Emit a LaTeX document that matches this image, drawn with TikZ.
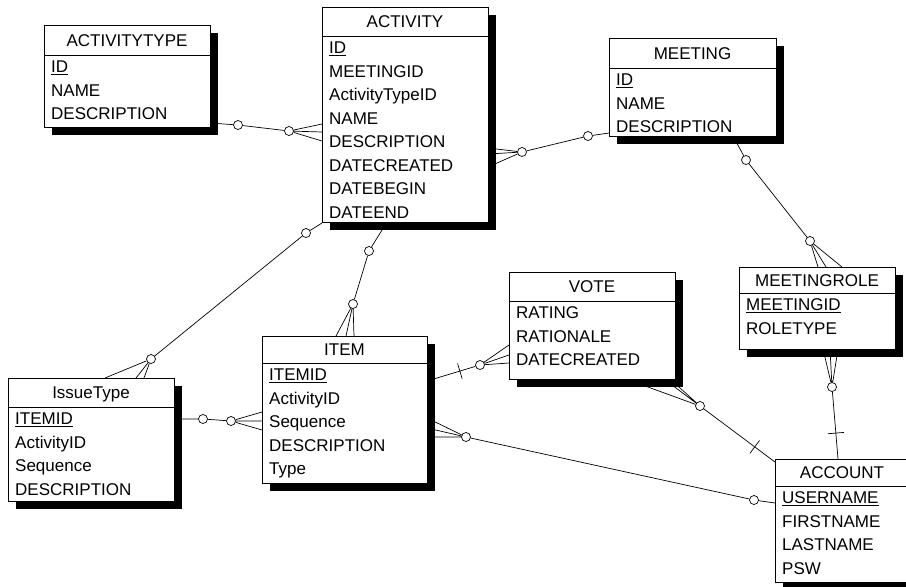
\documentclass[tikz,border=0pt]{standalone}
\usepackage{fontspec}
\newfontfamily\erfam{Liberation Sans}
\newcommand{\erfont}{\erfam\fontsize{17pt}{20pt}\selectfont}
\usetikzlibrary{calc}
\pgfdeclarelayer{conn}
\pgfsetlayers{conn,main}

\tikzset{
  erbox/.style={draw, fill=white, anchor=north west, inner sep=0pt, line width=0.8pt},
  ertitle/.style={anchor=base, inner sep=0pt, font=\erfont},
  errow/.style={anchor=base west, inner sep=0pt, font=\erfont},
  opt/.style={circle, draw, fill=white, inner sep=0pt, minimum size=9pt, line width=0.7pt},
  rel/.style={line width=0.7pt},
}

% entity: name, left, top, right, bottom, header rule y, title, attribute rows
\newcommand{\erentity}[8]{%
  \fill[black] (#2+8,#3+8) rectangle (#4+8,#5+8);
  \node[erbox, minimum width={(#4-#2)*1pt}, minimum height={(#5-#3)*1pt}] (#1) at (#2,#3) {};
  \draw[line width=0.8pt] (#2,#6) -- (#4,#6);
  \node[ertitle] (#1-t) at ({(#2+#4)/2},{(#3+#6)/2+6}) {#7};
  \foreach \r [count=\i from 0] in {#8} {
    \node[errow] (#1-\i) at (#2+7,#6+17.5+23.5*\i) {\r};
  }%
}

% tick bar across a relationship line
\newcommand{\erbar}[2]{%
  \draw[rel] ($(#1)!8pt!90:(#2)$) -- ($(#1)!8pt!-90:(#2)$);
}

\begin{document}
\begin{tikzpicture}[x=1pt,y=-1pt]
\useasboundingbox (0,0) rectangle (906,587);

% entities
\erentity{atype}{44}{25}{210}{127}{55}{ACTIVITYTYPE}{{\underline{ID}},NAME,DESCRIPTION}
\erentity{act}{322}{7}{488}{222}{36}{ACTIVITY}{{\underline{ID}},MEETINGID,ActivityTypeID,NAME,DESCRIPTION,DATECREATED,DATEBEGIN,DATEEND}
\erentity{meet}{609}{38}{776}{136}{68}{MEETING}{{\underline{ID}},NAME,DESCRIPTION}
\erentity{vote}{509}{272}{675}{379}{301}{VOTE}{RATING,RATIONALE,DATECREATED}
\erentity{mrole}{739}{267}{895}{349}{293}{MEETINGROLE}{{\underline{MEETINGID}},ROLETYPE}
\erentity{acct}{775}{459}{909}{582}{486}{ACCOUNT}{{\underline{USERNAME}},FIRSTNAME,LASTNAME,PSW}
\erentity{item}{262}{336}{427}{483}{363}{ITEM}{{\underline{ITEMID}},ActivityID,Sequence,DESCRIPTION,Type}
\erentity{itype}{8}{378}{174}{501}{407}{IssueType}{{\underline{ITEMID}},ActivityID,Sequence,DESCRIPTION}

% optionality circles
\node[opt] (o1a) at (238,125) {};
\node[opt] (o1b) at (289,131) {};
\node[opt] (o2a) at (522,152) {};
\node[opt] (o2b) at (588,136) {};
\node[opt] (o3a) at (746,160) {};
\node[opt] (o3b) at (810,241) {};
\node[opt] (o4)  at (832,387) {};
\node[opt] (o5)  at (700,406) {};
\node[opt] (o6)  at (480,365) {};
\node[opt] (o7a) at (466,437) {};
\node[opt] (o7b) at (754,500) {};
\node[opt] (o8a) at (369,251) {};
\node[opt] (o8b) at (353,304) {};
\node[opt] (o9a) at (306,233) {};
\node[opt] (o9b) at (151,359) {};
\node[opt] (o10a) at (203,419) {};
\node[opt] (o10b) at (231,421) {};

% attachment points on entity borders
\coordinate (s1) at (210,123);
\coordinate (f1a) at (322,124); \coordinate (f1b) at (322,132); \coordinate (f1c) at (322,141);
\coordinate (f2a) at (488,148); \coordinate (f2b) at (488,154); \coordinate (f2c) at (488,167);
\coordinate (e2) at (609,133);
\coordinate (s3) at (733,136);
\coordinate (f3a) at (818,267); \coordinate (f3b) at (826,267); \coordinate (f3c) at (842,267);
\coordinate (f4a) at (823,349); \coordinate (f4b) at (830,349); \coordinate (f4c) at (838,349);
\coordinate (e4) at (838,459);
\coordinate (f5a) at (626,379); \coordinate (f5b) at (664,379); \coordinate (f5c) at (670,379);
\coordinate (e5) at (775,462);
\coordinate (s6) at (427,381);
\coordinate (f6a) at (509,345); \coordinate (f6b) at (509,355); \coordinate (f6c) at (509,363);
\coordinate (f7a) at (427,418); \coordinate (f7b) at (427,428); \coordinate (f7c) at (427,437);
\coordinate (e7) at (775,503);
\coordinate (s8) at (387,222);
\coordinate (f8a) at (336,336); \coordinate (f8b) at (346,336); \coordinate (f8c) at (354,336);
\coordinate (s9) at (322,223);
\coordinate (f9a) at (105,378); \coordinate (f9b) at (136,378); \coordinate (f9c) at (144,378);
\coordinate (s10) at (174,419);
\coordinate (f10a) at (262,412); \coordinate (f10b) at (262,421); \coordinate (f10c) at (262,430);

\begin{pgfonlayer}{conn}
  % ACTIVITYTYPE - ACTIVITY
  \draw[rel] (s1) -- (o1a) -- (o1b);
  \draw[rel] (o1b) -- (f1a) (o1b) -- (f1b) (o1b) -- (f1c);
  % ACTIVITY - MEETING
  \draw[rel] (o2a) -- (f2a) (o2a) -- (f2b) (o2a) -- (f2c);
  \draw[rel] (o2a) -- (o2b) -- (e2);
  % MEETING - MEETINGROLE
  \draw[rel] (s3) -- (o3a) -- (o3b);
  \draw[rel] (o3b) -- (f3a) (o3b) -- (f3b) (o3b) -- (f3c);
  % MEETINGROLE - ACCOUNT
  \draw[rel] (o4) -- (f4a) (o4) -- (f4b) (o4) -- (f4c);
  \draw[rel] (o4) -- (e4);
  \coordinate (k4) at ($(o4)!0.64!(e4)$);
  \erbar{k4}{e4}
  % VOTE - ACCOUNT
  \draw[rel] (o5) -- (f5a) (o5) -- (f5b) (o5) -- (f5c);
  \draw[rel] (o5) -- (e5);
  \coordinate (k5) at ($(o5)!0.73!(e5)$);
  \erbar{k5}{e5}
  % ITEM - VOTE
  \draw[rel] (s6) -- (o6);
  \draw[rel] (o6) -- (f6a) (o6) -- (f6b) (o6) -- (f6c);
  \coordinate (k6) at ($(s6)!0.62!(o6)$);
  \erbar{k6}{o6}
  % ITEM - ACCOUNT
  \draw[rel] (o7a) -- (f7a) (o7a) -- (f7b) (o7a) -- (f7c);
  \draw[rel] (o7a) -- (o7b) -- (e7);
  % ACTIVITY - ITEM
  \draw[rel] (s8) -- (o8a) -- (o8b);
  \draw[rel] (o8b) -- (f8a) (o8b) -- (f8b) (o8b) -- (f8c);
  % ACTIVITY - IssueType
  \draw[rel] (s9) -- (o9a) -- (o9b);
  \draw[rel] (o9b) -- (f9a) (o9b) -- (f9b) (o9b) -- (f9c);
  % IssueType - ITEM
  \draw[rel] (s10) -- (o10a) -- (o10b);
  \draw[rel] (o10b) -- (f10a) (o10b) -- (f10b) (o10b) -- (f10c);
\end{pgfonlayer}
\end{tikzpicture}
\end{document}
